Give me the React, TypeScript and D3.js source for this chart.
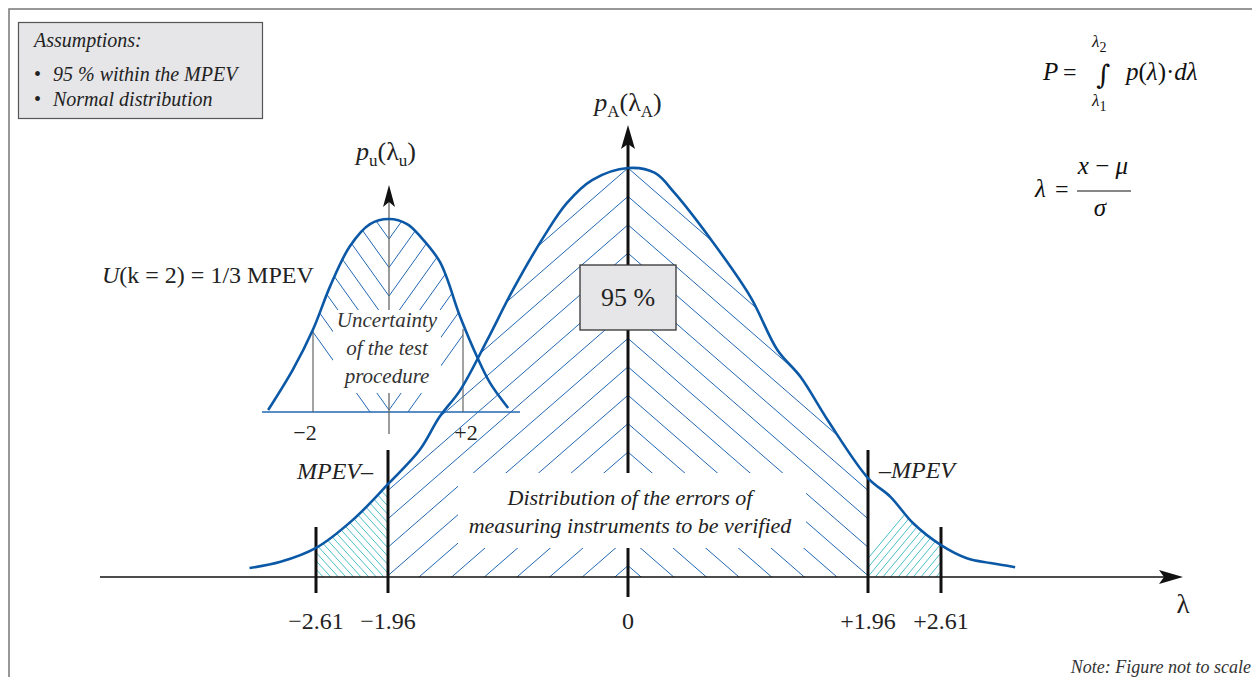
import React from 'react';
import * as d3 from 'd3';

// main distribution p_A(λ_A) (relative density, peak = 1)
const mainLambda = [-3.21, -2.93, -2.61, -2.28, -1.96, -1.7, -1.54, -1.37, -1.15, -0.94, -0.69, -0.5, -0.29, 0, 0.22, 0.38, 0.68, 1.0, 1.22, 1.41, 1.63, 1.96, 2.16, 2.36, 2.61, 2.84, 3.05, 3.27];
const mainDensity = [0.022, 0.037, 0.071, 0.139, 0.227, 0.311, 0.391, 0.457, 0.579, 0.702, 0.831, 0.914, 0.971, 1, 0.988, 0.939, 0.824, 0.685, 0.555, 0.489, 0.384, 0.242, 0.196, 0.132, 0.078, 0.046, 0.034, 0.024];

// uncertainty distribution p_u(λ_u)
const smallLambda = [-3.18, -2.53, -2.0, -1.55, -1.03, -0.5, 0, 0.49, 0.84, 1.38, 1.92, 2.38, 2.73, 3.22];
const smallDensity = [0.01, 0.219, 0.427, 0.651, 0.859, 0.974, 1, 0.974, 0.911, 0.776, 0.495, 0.286, 0.151, 0.021];

const mainTicks = [-2.61, -1.96, 0, 1.96, 2.61];
const mainTickLabels = ['\u22122.61', '\u22121.96', '0', '+1.96', '+2.61'];
const smallTicks = [-2, 2];
const smallTickLabels = ['\u22122', '+2'];

const assumptions = ['95 % within the MPEV', 'Normal distribution'];
const centreText = ['Distribution of the errors of', 'measuring instruments to be verified'];
const uncertaintyText = ['Uncertainty', 'of the test', 'procedure'];

const W = 1252;
const H = 677;
const BLUE = '#0b58a6';
const HATCH = '#2267b3';
const CYAN = '#36b8c2';
const FONT = "'Liberation Serif', 'Times New Roman', serif";

export default function App() {
  // figure is "not to scale": piecewise axis through the marked values
  const x = d3.scaleLinear().domain(mainTicks).range([316, 388, 628, 868, 941]);
  const y = d3.scaleLinear().domain([0, 1]).range([577, 168]);
  const xs = d3.scaleLinear().domain([-2, 0, 2]).range([313, 389, 463]);
  const ys = d3.scaleLinear().domain([0, 1]).range([412, 219]);

  const mainPts = mainLambda.map((l, i) => [l, mainDensity[i]] as [number, number]);
  const smallPts = smallLambda.map((l, i) => [l, smallDensity[i]] as [number, number]);

  const curve = d3.curveCatmullRom.alpha(0.5);
  const mainLine = d3.line<[number, number]>().x(d => x(d[0])).y(d => y(d[1])).curve(curve);
  const mainArea = d3.area<[number, number]>().x(d => x(d[0])).y0(y(0)).y1(d => y(d[1])).curve(curve);
  const smallLine = d3.line<[number, number]>().x(d => xs(d[0])).y(d => ys(d[1])).curve(curve);
  const smallArea = d3.area<[number, number]>().x(d => xs(d[0])).y0(ys(0)).y1(d => ys(d[1])).curve(curve);

  const x0 = x(0);
  const yTop = y(1);
  const yBase = y(0);

  // chevron hatching of the main 95 % region
  const mainHatch: string[] = [];
  for (let k = 0; k < 16; k++) {
    const vy = yTop + k * 28.4;
    mainHatch.push(`M${x0},${vy}L${x0 - 700},${vy + 0.87 * 700}`);
    mainHatch.push(`M${x0},${vy}L${x0 + 700},${vy + 0.87 * 700}`);
  }
  // dense cyan hatching in the tails
  const leftTail: string[] = [];
  const rightTail: string[] = [];
  for (let c = 150; c < 450; c += 7.6) leftTail.push(`M${c},${420}L${c + 200},${420 + 220}`);
  for (let c = 800; c < 1100; c += 7.6) rightTail.push(`M${c},${640}L${c + 200},${640 - 240}`);
  // V hatching of the uncertainty distribution
  const xs0 = xs(0);
  const smallHatch: string[] = [];
  for (let k = -2; k < 8; k++) {
    const vy = 239 + k * 28.5;
    smallHatch.push(`M${xs0},${vy}L${xs0 - 200},${vy - 1.4 * 200}`);
    smallHatch.push(`M${xs0},${vy}L${xs0 + 200},${vy - 1.4 * 200}`);
  }

  const arrowUp = (tx: number, ty: number, h: number, w: number) =>
    `M${tx},${ty}L${tx - w},${ty + h}L${tx},${ty + h - 5}L${tx + w},${ty + h}Z`;
  const arrowRight = (tx: number, ty: number, h: number, w: number) =>
    `M${tx},${ty}L${tx - h},${ty - w}L${tx - h + 5},${ty}L${tx - h},${ty + w}Z`;

  return (
    <svg width={W} height={H} style={{ position: 'absolute', left: 0, top: 0, background: '#fff', fontFamily: FONT }}>
      <defs>
        <clipPath id="under-main"><path d={mainArea(mainPts) || ''} /></clipPath>
        <clipPath id="mid"><rect x={x(-1.96)} y={0} width={x(1.96) - x(-1.96)} height={yBase} /></clipPath>
        <clipPath id="ltail"><rect x={x(-2.61)} y={0} width={x(-1.96) - x(-2.61)} height={yBase} /></clipPath>
        <clipPath id="rtail"><rect x={x(1.96)} y={0} width={x(2.61) - x(1.96)} height={yBase} /></clipPath>
        <clipPath id="under-small"><path d={smallArea(smallPts) || ''} /></clipPath>
        <clipPath id="small-mid"><rect x={xs(-2)} y={0} width={xs(2) - xs(-2)} height={ys(0)} /></clipPath>
      </defs>

      {/* frame */}
      <path d={`M9,${H}V9H${W}`} fill="none" stroke="#777" strokeWidth={1.5} />

      {/* hatching */}
      <g clipPath="url(#under-main)">
        <g clipPath="url(#mid)">
          {mainHatch.map((d, i) => <path key={i} d={d} stroke={HATCH} strokeWidth={1} fill="none" />)}
        </g>
        <g clipPath="url(#ltail)">
          {leftTail.map((d, i) => <path key={i} d={d} stroke={CYAN} strokeWidth={0.9} fill="none" />)}
        </g>
        <g clipPath="url(#rtail)">
          {rightTail.map((d, i) => <path key={i} d={d} stroke={CYAN} strokeWidth={0.9} fill="none" />)}
        </g>
      </g>
      <g clipPath="url(#under-small)">
        <g clipPath="url(#small-mid)">
          {smallHatch.map((d, i) => <path key={i} d={d} stroke={HATCH} strokeWidth={1} fill="none" />)}
        </g>
      </g>

      {/* small distribution axes */}
      <line x1={262} x2={520} y1={ys(0)} y2={ys(0)} stroke={HATCH} strokeWidth={1.3} />
      {smallTicks.map(t => (
        <line key={t} x1={xs(t)} x2={xs(t)} y1={ys(0)} y2={ys(0.43)} stroke="#666" strokeWidth={1.2} />
      ))}
      <line x1={xs0} x2={xs0} y1={434} y2={200} stroke="#666" strokeWidth={1.3} />
      <path d={arrowUp(xs0, 185, 22, 6)} fill="#111" />

      {/* main vertical axis */}
      <line x1={x0} x2={x0} y1={597} y2={140} stroke="#111" strokeWidth={3} />
      <path d={arrowUp(x0, 125, 24, 7)} fill="#111" />

      {/* white label backgrounds */}
      <rect x={333} y={310} width={108} height={83} fill="#fff" />
      <rect x={458} y={473} width={348} height={75} fill="#fff" />

      {/* horizontal axis and bounds */}
      <line x1={100} x2={1170} y1={yBase} y2={yBase} stroke="#111" strokeWidth={1.5} />
      <path d={arrowRight(1183, yBase, 24, 7)} fill="#111" />
      {mainTicks.filter(t => t !== 0).map(t => (
        <line key={t} x1={x(t)} x2={x(t)} y1={593} y2={Math.abs(t) > 2 ? 527 : 450} stroke="#111" strokeWidth={3} />
      ))}

      {/* curves */}
      <path d={smallLine(smallPts) || ''} fill="none" stroke={BLUE} strokeWidth={2.6} />
      <path d={mainLine(mainPts) || ''} fill="none" stroke={BLUE} strokeWidth={2.6} />

      {/* 95 % box */}
      <rect x={580} y={265} width={96} height={65} fill="#e6e6e8" stroke="#333" strokeWidth={1.3} />
      <text x={x0} y={306} fontSize={26} textAnchor="middle" fill="#222">95 %</text>

      {/* assumptions box */}
      <rect x={18.5} y={22.5} width={244} height={96} fill="#e6e6e8" stroke="#555" strokeWidth={1.2} />
      <text x={34} y={47} fontSize={20} fontStyle="italic" fill="#222">Assumptions:</text>
      {assumptions.map((s, i) => (
        <g key={s}>
          <text x={34} y={81 + i * 25} fontSize={20} fill="#222">{'\u2022'}</text>
          <text x={53} y={81 + i * 25} fontSize={20} fontStyle="italic" fill="#222">{s}</text>
        </g>
      ))}

      {/* formulas */}
      <g fill="#111">
        <text x={1043} y={80} fontSize={25} fontStyle="italic">P</text>
        <text x={1063} y={80} fontSize={24}>=</text>
        <text x={1096} y={84} fontSize={27} fontFamily="'DejaVu Serif', serif">{'\u222B'}</text>
        <text x={1092} y={47} fontSize={17} fontStyle="italic">{'\u03BB'}<tspan fontSize={14} fontStyle="normal" dy={5}>2</tspan></text>
        <text x={1092} y={106} fontSize={17} fontStyle="italic">{'\u03BB'}<tspan fontSize={14} fontStyle="normal" dy={5}>1</tspan></text>
        <text x={1126} y={80} fontSize={25} fontStyle="italic">p<tspan fontStyle="normal">(</tspan>{'\u03BB'}<tspan fontStyle="normal">){'\u00B7'}</tspan>d{'\u03BB'}</text>

        <text x={1035} y={197} fontSize={25} fontStyle="italic">{'\u03BB'}</text>
        <text x={1055} y={197} fontSize={24}>=</text>
        <text x={1103} y={174} fontSize={25} fontStyle="italic" textAnchor="middle">x <tspan fontStyle="normal">{'\u2212'}</tspan> {'\u03BC'}</text>
        <line x1={1077} x2={1131} y1={191} y2={191} stroke="#111" strokeWidth={1.2} />
        <text x={1100} y={216} fontSize={25} fontStyle="italic" textAnchor="middle">{'\u03C3'}</text>
      </g>

      {/* axis titles */}
      <text x={x0} y={111} fontSize={26} textAnchor="middle" fill="#222">
        <tspan fontStyle="italic">p</tspan><tspan fontSize={17} dy={6}>A</tspan><tspan dy={-6}>({'\u03BB'}</tspan><tspan fontSize={17} dy={6}>A</tspan><tspan dy={-6}>)</tspan>
      </text>
      <text x={386} y={160} fontSize={26} textAnchor="middle" fill="#222">
        <tspan fontStyle="italic">p</tspan><tspan fontSize={17} dy={6}>u</tspan><tspan dy={-6}>({'\u03BB'}</tspan><tspan fontSize={17} dy={6}>u</tspan><tspan dy={-6}>)</tspan>
      </text>
      <text x={1183} y={613} fontSize={27} textAnchor="middle" fill="#222">{'\u03BB'}</text>

      <text x={102} y={283} fontSize={24} fill="#222"><tspan fontStyle="italic">U</tspan>(k = 2) = 1/3 MPEV</text>

      {uncertaintyText.map((s, i) => (
        <text key={s} x={387} y={327 + i * 28} fontSize={21} fontStyle="italic" textAnchor="middle" fill="#333">{s}</text>
      ))}
      {centreText.map((s, i) => (
        <text key={s} x={630} y={505 + i * 28} fontSize={22} fontStyle="italic" textAnchor="middle" fill="#222">{s}</text>
      ))}

      <text x={297} y={479} fontSize={24} fontStyle="italic" fill="#222">MPEV{'\u2013'}</text>
      <text x={879} y={478} fontSize={24} fontStyle="italic" fill="#222">{'\u2013'}MPEV</text>

      {mainTicks.map((t, i) => (
        <text key={t} x={x(t)} y={629} fontSize={24} textAnchor="middle" fill="#222">{mainTickLabels[i]}</text>
      ))}
      {smallTicks.map((t, i) => (
        <text key={t} x={xs(t) + (t < 0 ? -8 : 3)} y={440} fontSize={22} textAnchor="middle" fill="#222">{smallTickLabels[i]}</text>
      ))}

      <text x={1251} y={673} fontSize={18} fontStyle="italic" textAnchor="end" fill="#333">Note: Figure not to scale</text>
    </svg>
  );
}
